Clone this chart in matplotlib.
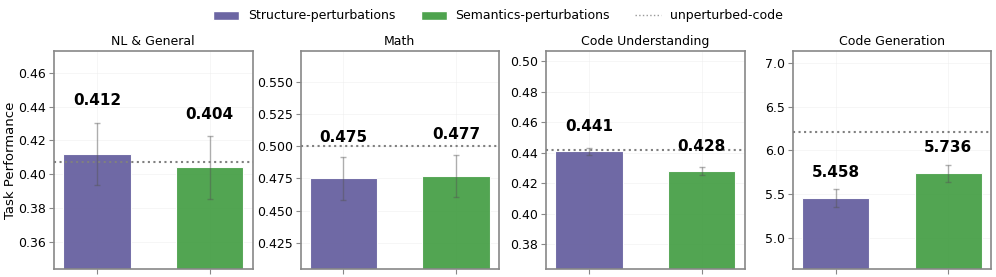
import matplotlib
matplotlib.use("Agg")
import matplotlib.pyplot as plt
from matplotlib.lines import Line2D
from matplotlib.patches import Patch

titles = ["NL & General", "Math", "Code Understanding", "Code Generation"]
series_names = ["Structure-perturbations", "Semantics-perturbations"]
structure_vals = [0.412, 0.475, 0.441, 5.458]
semantics_vals = [0.404, 0.477, 0.428, 5.736]
structure_err = [0.0185, 0.0167, 0.0025, 0.105]
semantics_err = [0.0187, 0.0166, 0.0024, 0.102]
unperturbed = [0.407, 0.500, 0.442, 6.21]
ylims = [(0.344, 0.473), (0.4045, 0.5745), (0.3638, 0.507), (4.646, 7.137)]

colors = ["#6c66a3", "#4ea34e"]

fig = plt.figure(figsize=(9.96, 2.77), dpi=100)
lefts = [54, 300.5, 546, 792.7]
W, H = 996, 277
axw = 198.5
bottom_px, top_px = 269, 50.7

for i in range(4):
    ax = fig.add_axes([lefts[i] / W, 1 - bottom_px / H, axw / W, (bottom_px - top_px) / H])
    vals = [structure_vals[i], semantics_vals[i]]
    errs = [structure_err[i], semantics_err[i]]
    x = [0, 1]
    ax.bar(x, vals, width=0.6, color=colors, edgecolor="white", linewidth=0.8, alpha=0.98,
           yerr=errs, error_kw=dict(ecolor="#555555", elinewidth=1.0, capsize=2.5,
                                    capthick=1.0, alpha=0.45), zorder=2)
    ax.axhline(unperturbed[i], color="gray", linestyle=":", linewidth=1.5, zorder=3)
    for xi, v, e in zip(x, vals, errs):
        ax.text(xi, v + e + 0.025 * v, f"{v:.3f}", ha="center", va="baseline",
                fontsize=11, fontweight="bold", zorder=4)
    ax.set_ylim(*ylims[i])
    ax.set_xticks(x)
    ax.set_xticklabels(["", ""])
    ax.set_title(titles[i], fontsize=9, pad=4)
    ax.grid(True, color="#eeeeee", linewidth=0.6, alpha=0.6, zorder=0)
    ax.set_axisbelow(True)
    for s in ax.spines.values():
        s.set_color("#888888")
        s.set_linewidth(1.2)
    ax.tick_params(axis="both", colors="#888888", labelcolor="black", labelsize=9,
                   length=3.5, width=0.8, pad=2)
    if i == 0:
        ax.set_ylabel("Task Performance", fontsize=9.5, labelpad=1)

handles = [Patch(facecolor=colors[0], edgecolor="white", label=series_names[0]),
           Patch(facecolor=colors[1], edgecolor="white", label=series_names[1]),
           Line2D([0], [0], color="#999999", linestyle=":", linewidth=1.0, label="unperturbed-code")]
fig.legend(handles=handles, loc="center", bbox_to_anchor=(0.5, 1 - 16 / H), ncol=3,
           frameon=False, fontsize=9, handlelength=2.1, handleheight=0.7,
           handletextpad=0.7, columnspacing=2.0)

fig.savefig("out.png", dpi=100)
